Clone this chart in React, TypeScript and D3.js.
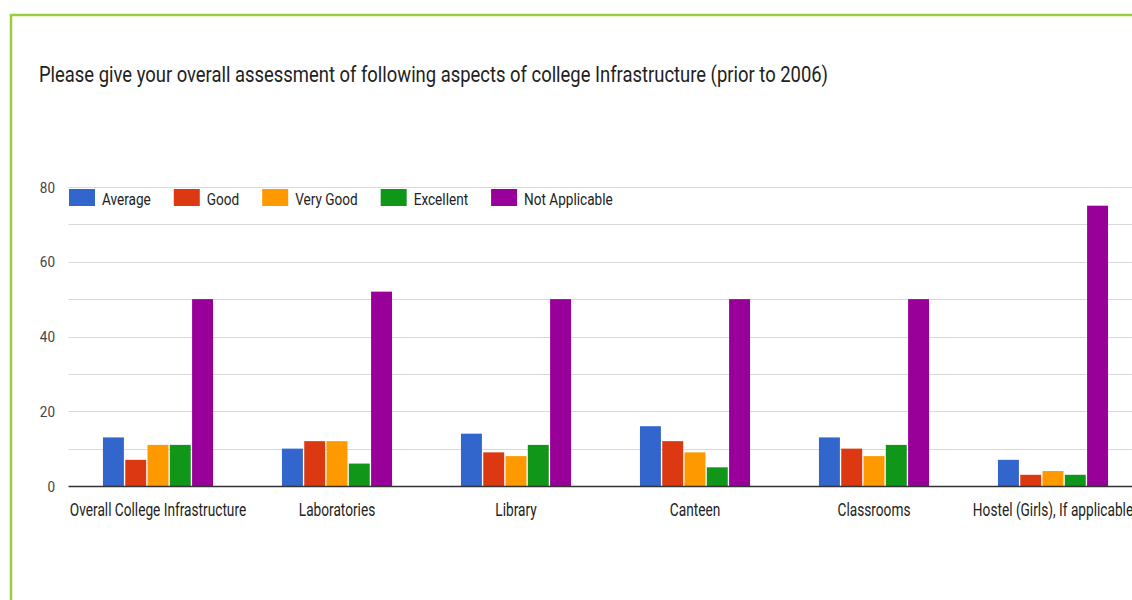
import React, { useEffect, useRef } from "react";
import * as d3 from "d3";

const titleText =
  "Please give your overall assessment of following aspects of college Infrastructure (prior to 2006)";
const categories = [
  "Overall College Infrastructure",
  "Laboratories",
  "Library",
  "Canteen",
  "Classrooms",
  "Hostel (Girls), If applicable",
];
const seriesNames = ["Average", "Good", "Very Good", "Excellent", "Not Applicable"];
const average = [13, 10, 14, 16, 13, 7];
const good = [7, 12, 9, 12, 10, 3];
const veryGood = [11, 12, 8, 9, 8, 4];
const excellent = [11, 6, 11, 5, 11, 3];
const notApplicable = [50, 52, 50, 50, 50, 75];
const yTicks = [0, 20, 40, 60, 80];
const gridValues = [0, 10, 20, 30, 40, 50, 60, 70, 80];

const seriesValues = [average, good, veryGood, excellent, notApplicable];
const colors = ["#3366cc", "#dc3912", "#ff9900", "#109618", "#990099"];

const W = 1132;
const H = 600;
const FONT = "Roboto, 'Liberation Sans', Arial, sans-serif";

export default function App() {
  const ref = useRef<SVGSVGElement | null>(null);

  useEffect(() => {
    const svg = d3.select(ref.current);
    svg.selectAll("*").remove();

    svg.append("rect").attr("width", W).attr("height", H).attr("fill", "#fff");

    // green frame
    svg
      .append("path")
      .attr("d", `M11,${H + 5} L11,15 L${W + 5},15`)
      .attr("fill", "none")
      .attr("stroke", "#9acd3a")
      .attr("stroke-width", 2.5);

    // title
    svg
      .append("text")
      .attr("x", 39)
      .attr("y", 82)
      .attr("font-family", FONT)
      .attr("font-size", 22)
      .attr("fill", "#222")
      .attr("textLength", 789)
      .attr("lengthAdjust", "spacingAndGlyphs")
      .text(titleText);

    const left = 68.5;
    const right = 1142.5;
    const y = d3.scaleLinear().domain([0, 80]).range([486, 187]);
    const x0 = d3
      .scaleBand<string>()
      .domain(categories)
      .range([left, right])
      .paddingInner(0.385)
      .paddingOuter(0.1925);
    const x1 = d3
      .scaleBand<string>()
      .domain(seriesNames)
      .range([0, x0.bandwidth()])
      .paddingInner(0.06);

    // gridlines
    svg
      .append("g")
      .selectAll("line")
      .data(gridValues.filter((v) => v !== 0))
      .join("line")
      .attr("x1", left)
      .attr("x2", W + 10)
      .attr("y1", (d) => Math.round(y(d)) + 0.5)
      .attr("y2", (d) => Math.round(y(d)) + 0.5)
      .attr("stroke", "#d9d9d9")
      .attr("stroke-width", 1.2);

    // y tick labels
    svg
      .append("g")
      .selectAll("text")
      .data(yTicks)
      .join("text")
      .attr("transform", (d) => `translate(55,${y(d) + 5.5}) scale(0.9,1)`)
      .attr("text-anchor", "end")
      .attr("font-family", FONT)
      .attr("font-size", 15)
      .attr("fill", "#444")
      .text((d) => String(d));

    // bars
    const groups = svg
      .append("g")
      .selectAll("g")
      .data(categories)
      .join("g")
      .attr("transform", (d) => `translate(${x0(d)},0)`);

    groups
      .selectAll("rect")
      .data((_, i) => seriesNames.map((s, k) => ({ s, v: seriesValues[k][i], k })))
      .join("rect")
      .attr("x", (d) => x1(d.s) as number)
      .attr("width", x1.bandwidth())
      .attr("y", (d) => y(d.v))
      .attr("height", (d) => y(0) - y(d.v))
      .attr("fill", (d) => colors[d.k]);

    // baseline
    svg
      .append("line")
      .attr("x1", left)
      .attr("x2", W + 10)
      .attr("y1", y(0) + 0.5)
      .attr("y2", y(0) + 0.5)
      .attr("stroke", "#333")
      .attr("stroke-width", 1.3);

    // category labels
    svg
      .append("g")
      .selectAll("text")
      .data(categories)
      .join("text")
      .attr(
        "transform",
        (d) => `translate(${(x0(d) as number) + x0.bandwidth() / 2},516) scale(0.76,1)`
      )
      .attr("text-anchor", "middle")
      .attr("font-family", FONT)
      .attr("font-size", 18)
      .attr("fill", "#222")
      .text((d) => d);

    // legend
    const legend = svg.append("g");
    let lx = 69;
    seriesNames.forEach((name, k) => {
      legend
        .append("rect")
        .attr("x", lx)
        .attr("y", 189)
        .attr("width", 26)
        .attr("height", 17)
        .attr("fill", colors[k]);
      const t = legend
        .append("text")
        .attr("transform", `translate(${lx + 33},205) scale(0.8,1)`)
        .attr("font-family", FONT)
        .attr("font-size", 17)
        .attr("fill", "#222")
        .text(name);
      const w = (t.node() as SVGTextElement).getComputedTextLength() * 0.8;
      lx += 33 + w + 23;
    });
  }, []);

  return (
    <svg
      ref={ref}
      width={W}
      height={H}
      style={{ position: "fixed", left: 0, top: 0, display: "block" }}
    />
  );
}
